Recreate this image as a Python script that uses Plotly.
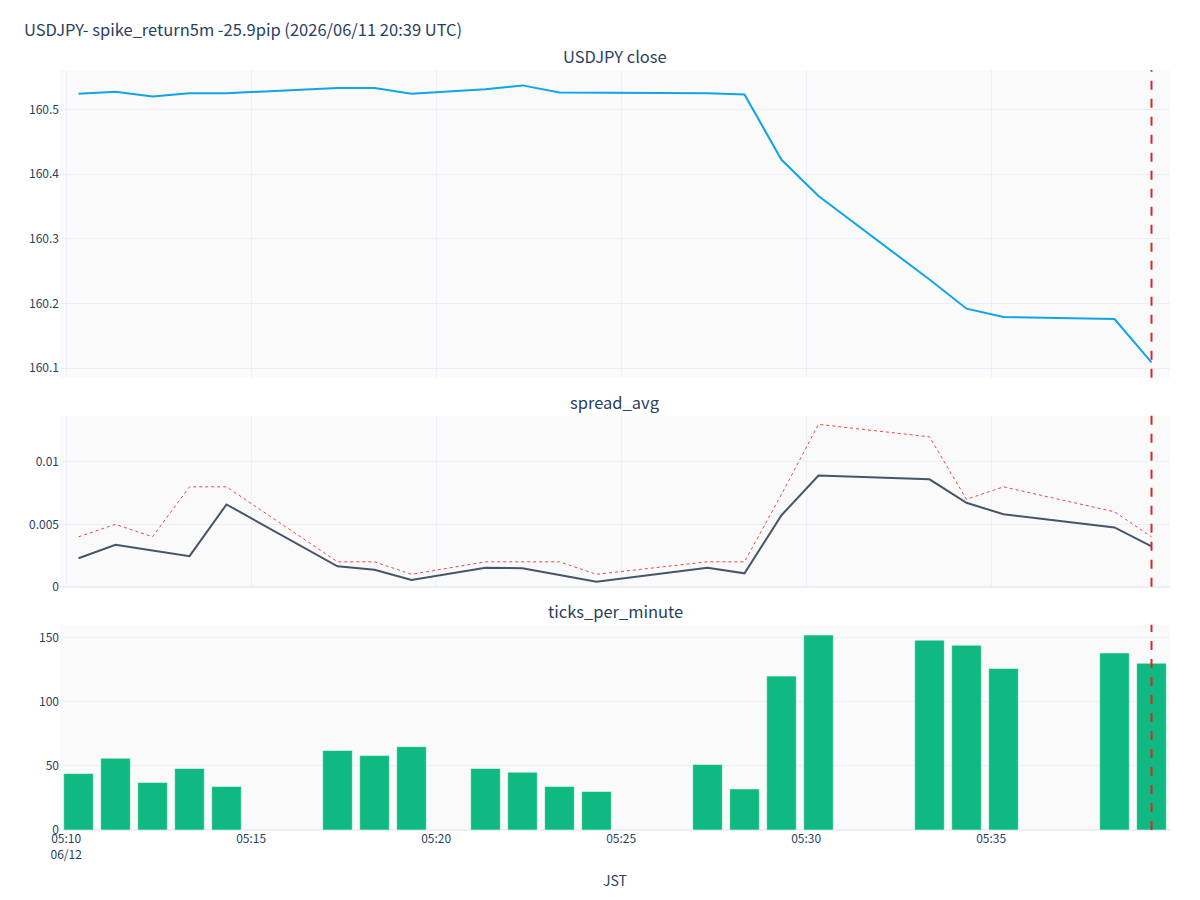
import plotly.graph_objects as go
from plotly.subplots import make_subplots

# ---- data (JST timestamps, one per minute bar) ----
times = [
    "2026-06-12 05:10:20", "2026-06-12 05:11:20", "2026-06-12 05:12:20",
    "2026-06-12 05:13:20", "2026-06-12 05:14:20", "2026-06-12 05:17:20",
    "2026-06-12 05:18:20", "2026-06-12 05:19:20", "2026-06-12 05:21:20",
    "2026-06-12 05:22:20", "2026-06-12 05:23:20", "2026-06-12 05:24:20",
    "2026-06-12 05:27:20", "2026-06-12 05:28:20", "2026-06-12 05:29:20",
    "2026-06-12 05:30:20", "2026-06-12 05:33:20", "2026-06-12 05:34:20",
    "2026-06-12 05:35:20", "2026-06-12 05:38:20", "2026-06-12 05:39:20",
]
close = [
    160.524, 160.527, 160.520, 160.525, 160.525, 160.533,
    160.533, 160.524, 160.531, 160.537, 160.526, 160.526,
    160.525, 160.523, 160.422, 160.366, 160.237, 160.192,
    160.179, 160.176, 160.109,
]
spread_avg = [
    0.00228, 0.00336, 0.00290, 0.00245, 0.00659, 0.00164,
    0.00137, 0.00054, 0.00153, 0.00148, 0.00094, 0.00040,
    0.00153, 0.00108, 0.00573, 0.00890, 0.00860, 0.00672,
    0.00580, 0.00475, 0.00323,
]
spread_max = [
    0.004, 0.005, 0.004, 0.008, 0.008, 0.002,
    0.002, 0.001, 0.002, 0.002, 0.002, 0.001,
    0.002, 0.002, 0.0074, 0.013, 0.012, 0.007,
    0.008, 0.006, 0.004,
]
ticks_per_minute = [
    44, 56, 37, 48, 34, 62,
    58, 65, 48, 45, 34, 30,
    51, 32, 120, 152, 148, 144,
    126, 138, 130,
]
event_time = "2026-06-12 05:39:20"
title_text = "USDJPY- spike_return5m -25.9pip (2026/06/11 20:39 UTC)"
subplot_titles = ["USDJPY close", "spread_avg", "ticks_per_minute"]

FONT = "Noto Sans CJK JP"

fig = make_subplots(
    rows=3, cols=1, shared_xaxes=True, vertical_spacing=0.05,
    row_heights=[0.45, 0.25, 0.30], subplot_titles=subplot_titles,
)

fig.add_trace(go.Scatter(x=times, y=close, mode="lines", name="close",
                         line=dict(color="#0ea5e9", width=2)), row=1, col=1)
fig.add_trace(go.Scatter(x=times, y=spread_max, mode="lines", name="spread_max",
                         line=dict(color="#ef4444", width=1, dash="dot")), row=2, col=1)
fig.add_trace(go.Scatter(x=times, y=spread_avg, mode="lines", name="spread_avg",
                         line=dict(color="#475569", width=2)), row=2, col=1)
fig.add_trace(go.Bar(x=times, y=ticks_per_minute, name="ticks_per_minute",
                     marker=dict(color="#10b981")), row=3, col=1)

for r in (1, 2, 3):
    fig.add_vline(x=event_time, line=dict(color="#dc2626", width=2, dash="dash"),
                  row=r, col=1)

fig.update_layout(
    template="plotly_white",
    width=1200, height=900,
    margin=dict(l=60, r=30, t=70, b=70),
    plot_bgcolor="#fafafa",
    showlegend=False,
    font=dict(family=FONT, size=12, color="#2a3f5f"),
    title=dict(text=title_text, x=0.02, xanchor="left", y=0.966, yanchor="middle",
               font=dict(family=FONT, size=16.5)),
    bargap=0.2,
)
for ann in fig.layout.annotations:
    ann.font = dict(family=FONT, size=16.5, color="#2a3f5f")

fig.update_xaxes(dtick=300000, tick0="2026-06-12 05:10:00",
                 tickformat="%H:%M\n%m/%d")
fig.update_xaxes(title_text="JST", row=3, col=1)
fig.update_yaxes(rangemode="tozero", row=2, col=1)
fig.update_yaxes(rangemode="tozero", row=3, col=1)

fig.write_html("out.html")
